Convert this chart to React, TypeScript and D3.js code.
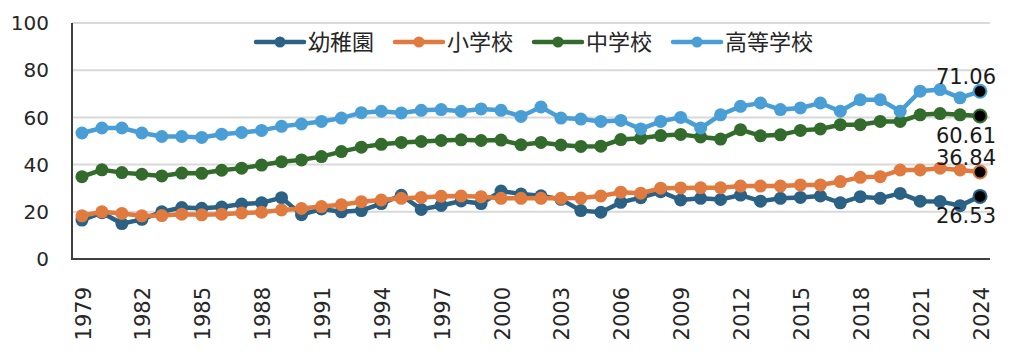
import React, { useRef, useEffect } from "react";
import * as d3 from "d3";

const years = d3.range(1979, 2025);
const tickYears = d3.range(1979, 2025, 3);
const yTicks = [0, 20, 40, 60, 80, 100];

const seriesNames = ["幼稚園", "小学校", "中学校", "高等学校"];
const seriesColors = ["#2b6184", "#e07a3f", "#336b2c", "#4a9ed6"];

const kindergarten = [
  16.5, 19.6, 15.0, 16.8, 20.0, 21.8, 21.5, 22.0, 23.3, 23.8, 26.0, 18.8, 21.2, 20.0, 20.5, 23.5,
  27.0, 21.0, 22.7, 24.6, 23.5, 28.8, 27.5, 26.8, 25.3, 20.5, 19.8, 24.0, 26.0, 28.5, 25.0, 25.7,
  25.2, 27.1, 24.5, 25.7, 26.1, 26.7, 23.8, 26.4, 25.7, 27.8, 24.5, 24.4, 22.6, 26.53,
];
const elementary = [
  18.3, 20.0, 19.3, 18.3, 18.4, 19.0, 18.7, 19.0, 19.5, 19.8, 20.8, 21.4, 22.2, 23.0, 24.3, 25.0,
  25.7, 26.1, 26.6, 26.7, 26.4, 25.7, 25.7, 25.7, 25.7, 25.8, 26.7, 28.3, 27.9, 30.0, 30.1, 30.2,
  30.2, 30.9, 30.9, 30.9, 31.4, 31.4, 32.8, 34.6, 34.9, 37.7, 37.7, 38.5, 37.7, 36.84,
];
const juniorHigh = [
  34.9, 37.8, 36.6, 35.9, 35.2, 36.4, 36.3, 37.6, 38.5, 39.8, 41.2, 42.0, 43.4, 45.5, 47.4, 48.6,
  49.4, 49.8, 50.2, 50.5, 50.2, 50.4, 48.4, 49.4, 48.3, 47.7, 47.8, 50.6, 51.2, 52.3, 52.8, 51.7,
  50.8, 54.8, 52.2, 52.6, 54.5, 55.1, 56.9, 56.9, 58.3, 58.3, 61.1, 61.6, 61.1, 60.61,
];
const highSchool = [
  53.4, 55.5, 55.5, 53.4, 51.9, 51.9, 51.5, 52.9, 53.6, 54.5, 56.2, 57.2, 58.3, 59.7, 62.0, 62.6,
  61.9, 63.0, 63.3, 62.6, 63.6, 63.0, 60.4, 64.4, 59.7, 59.3, 58.3, 58.7, 55.1, 58.3, 60.0, 55.5,
  61.1, 64.7, 66.1, 63.3, 64.0, 66.1, 62.6, 67.5, 67.5, 62.6, 71.1, 71.8, 68.3, 71.06,
];
const seriesValues = [kindergarten, elementary, juniorHigh, highSchool];
// last-point label placement: above or below
const labelAbove = [false, true, false, true];

const NUM_FONT = "'DejaVu Sans', Verdana, sans-serif";
const CJK_FONT = "'Noto Sans CJK JP', sans-serif";

function LineChart() {
  const svgRef = useRef<SVGSVGElement>(null);

  useEffect(() => {
    const svg = d3.select(svgRef.current);
    svg.selectAll("*").remove();

    const width = 1024;
    const height = 363;
    const margin = { left: 72, right: 34, top: 23, bottom: 104 };

    const x = d3
      .scalePoint<number>()
      .domain(years)
      .range([margin.left, width - margin.right])
      .padding(0.5);

    const y = d3
      .scaleLinear()
      .domain([0, 100])
      .range([height - margin.bottom, margin.top]);

    // grid
    svg
      .append("g")
      .selectAll("line")
      .data(yTicks.filter((d) => d > 0))
      .join("line")
      .attr("x1", margin.left)
      .attr("x2", width - margin.right)
      .attr("y1", (d) => y(d))
      .attr("y2", (d) => y(d))
      .attr("stroke", "#d9d9d9")
      .attr("stroke-width", 2);

    // y labels
    svg
      .append("g")
      .selectAll("text")
      .data(yTicks)
      .join("text")
      .attr("x", 49)
      .attr("y", (d) => y(d))
      .attr("dy", "0.36em")
      .attr("text-anchor", "end")
      .attr("font-family", NUM_FONT)
      .attr("font-size", 20)
      .attr("fill", "#262626")
      .text((d) => d);

    // x labels (rotated)
    svg
      .append("g")
      .selectAll("text")
      .data(tickYears)
      .join("text")
      .attr("transform", (d) => `translate(${x(d)! + 1},${287}) rotate(-90)`)
      .attr("dy", "0.36em")
      .attr("text-anchor", "end")
      .attr("font-family", NUM_FONT)
      .attr("font-size", 21)
      .attr("fill", "#262626")
      .text((d) => d);

    // axes lines
    svg
      .append("path")
      .attr(
        "d",
        `M${margin.left},${y(100)}V${y(0)}H${width - margin.right}`
      )
      .attr("fill", "none")
      .attr("stroke", "#404040")
      .attr("stroke-width", 2);

    const line = d3
      .line<number>()
      .x((_, i) => x(years[i])!)
      .y((d) => y(d));

    seriesValues.forEach((vals, si) => {
      const g = svg.append("g");
      g.append("path")
        .attr("d", line(vals))
        .attr("fill", "none")
        .attr("stroke", seriesColors[si])
        .attr("stroke-width", 4.5);
      g.selectAll("circle")
        .data(vals)
        .join("circle")
        .attr("cx", (_, i) => x(years[i])!)
        .attr("cy", (d) => y(d))
        .attr("r", 6.5)
        .attr("fill", (_, i) => (i === vals.length - 1 ? "#000" : seriesColors[si]))
        .attr("stroke", seriesColors[si])
        .attr("stroke-width", (_, i) => (i === vals.length - 1 ? 2 : 0));
    });

    // last value labels
    svg
      .append("g")
      .selectAll("text")
      .data(seriesValues)
      .join("text")
      .attr("x", 996)
      .attr("y", (d, i) => y(d[d.length - 1]) + (labelAbove[i] ? -7 : 27))
      .attr("text-anchor", "end")
      .attr("font-family", NUM_FONT)
      .attr("font-size", 21)
      .attr("fill", "#1a1a1a")
      .text((d) => d[d.length - 1].toFixed(2));

    // legend
    const legend = svg.append("g").attr("transform", "translate(256,42)");
    let lx = 0;
    seriesNames.forEach((name, i) => {
      const item = legend.append("g").attr("transform", `translate(${lx},0)`);
      item
        .append("line")
        .attr("x1", 0)
        .attr("x2", 48)
        .attr("stroke", seriesColors[i])
        .attr("stroke-width", 4.5)
        .attr("stroke-linecap", "round");
      item.append("circle").attr("cx", 24).attr("r", 5.5).attr("fill", seriesColors[i]);
      const t = item
        .append("text")
        .attr("x", 52)
        .attr("dy", "0.36em")
        .attr("font-family", CJK_FONT)
        .attr("font-size", 22)
        .attr("fill", "#262626")
        .text(name);
      const w = (t.node() as SVGTextElement).getComputedTextLength();
      lx += 52 + w + 21;
    });
  }, []);

  return (
    <svg
      ref={svgRef}
      width={1024}
      height={363}
      style={{ position: "absolute", left: 0, top: 0, background: "#fff" }}
    ></svg>
  );
}

export default function App() {
  return <LineChart />;
}
